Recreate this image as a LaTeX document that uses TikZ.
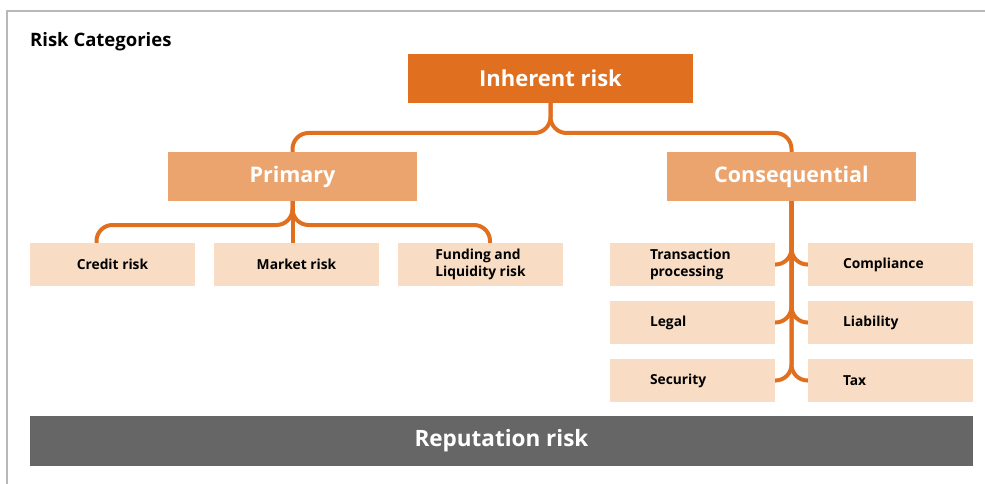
\documentclass[tikz,border=0pt]{standalone}
\usepackage{fontspec}
\setmainfont{Open Sans}
\usepackage{tikz}
\usetikzlibrary{calc}
\definecolor{riskorange}{HTML}{E07020}
\definecolor{riskmid}{HTML}{EBA46E}
\definecolor{risklight}{HTML}{F8DCC4}
\definecolor{riskgray}{HTML}{666666}
\definecolor{framegray}{HTML}{B8B8B8}
\tikzstyle{topbox}=[rectangle, fill=riskorange, text=white, inner sep=0pt, minimum width=285pt, minimum height=49pt, font=\bfseries\fontsize{22}{26}\selectfont]
\tikzstyle{midbox}=[rectangle, fill=riskmid, text=white, inner sep=0pt, minimum width=249pt, minimum height=49pt, font=\bfseries\fontsize{21.5}{26}\selectfont]
\tikzstyle{leaf}=[rectangle, fill=risklight, text=black, inner sep=0pt, minimum width=165pt, minimum height=43pt, font=\bfseries\fontsize{13.8}{17.5}\selectfont]
\tikzstyle{repbox}=[rectangle, fill=riskgray, text=white, inner sep=0pt, minimum width=943pt, minimum height=50pt, font=\bfseries\fontsize{22.5}{26}\selectfont]
\tikzstyle{link}=[draw=riskorange, line width=4pt, rounded corners=16pt]

\begin{document}
\begin{tikzpicture}[x=1pt,y=-1pt]
\useasboundingbox (0,0) rectangle (985,484);
\draw[framegray, line width=2pt] (7,484) -- (7,11) -- (985,11);
\node[anchor=base west, inner sep=0pt, font=\bfseries\fontsize{18.5}{22}\selectfont] (title) at (30,47) {Risk Categories};

% top levels
\node[topbox] (inh) at (550.5,78.5) {Inherent risk};
\node[midbox] (prim) at (292.5,176.5) {Primary};
\node[midbox] (cons) at (791.5,176.5) {Consequential};

% primary risks
\node[leaf] (credit) at (112.5,264.5) {Credit risk};
\node[leaf] (market) at (296.5,264.5) {Market risk};
\node[leaf, align=left] (fund) at (480.5,264.5) {Funding and\\Liquidity risk};

% consequential risks
\foreach \name/\y/\txt in {trans/264.5/{Transaction\\processing}, legal/322.5/Legal, secur/380.5/Security} {
	\node[leaf, align=left, text width=85pt] (\name) at (692.5,\y) {\txt};
}
\foreach \name/\y/\txt in {compl/264.5/Compliance, liab/322.5/Liability, tax/380.5/Tax} {
	\node[leaf, align=left, text width=95pt] (\name) at (890.5,\y) {\txt};
}

\node[repbox] (rep) at (501.5,441) {Reputation risk};

% connectors
\coordinate (fork) at (550.5,133);
\draw[link] (inh.south) -- (fork) -- (fork -| prim.north) -- (prim.north);
\draw[link] (inh.south) -- (fork) -- (fork -| cons.north) -- (cons.north);
\coordinate (pfork) at (292.5,225);
\coordinate (credit-in) at ($(credit.north)+(-16,0)$);
\coordinate (fund-in) at ($(fund.north)+(9.5,0)$);
\draw[link] (prim.south) -- (pfork) -- (pfork -| credit-in) -- (credit-in);
\draw[link] (prim.south) -- (pfork) -- (pfork -| fund-in) -- (fund-in);
\draw[link] (prim.south) -- (prim.south |- market.north);
\foreach \l/\r in {trans/compl, legal/liab, secur/tax} {
	\draw[link] (cons.south) -- (cons.south |- \l.east) -- (\l.east);
	\draw[link] (cons.south) -- (cons.south |- \r.west) -- (\r.west);
}
\end{tikzpicture}
\end{document}
